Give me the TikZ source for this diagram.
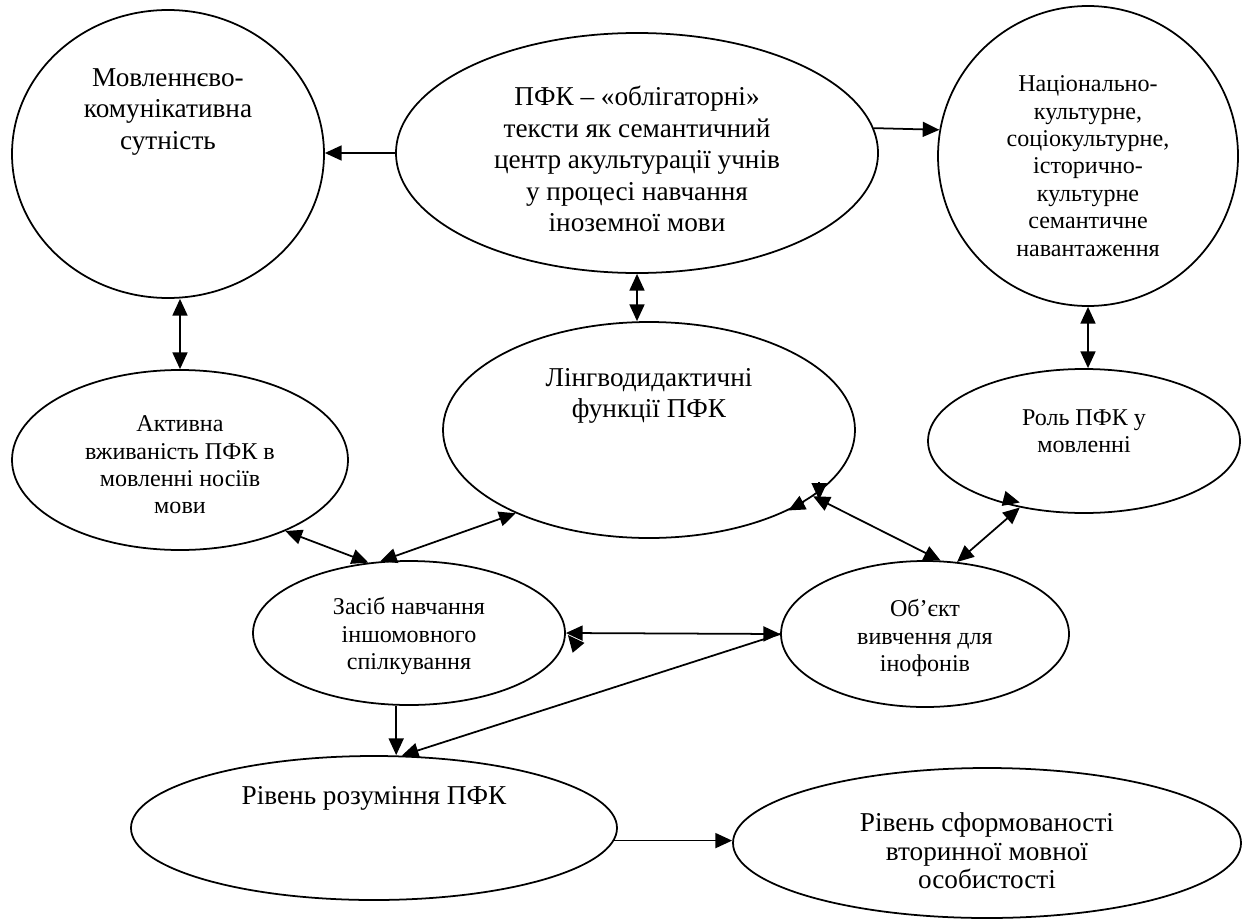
\documentclass[tikz,border=0pt]{standalone}
\usepackage{fontspec}
\setmainfont{Liberation Serif}
\usetikzlibrary{shapes.geometric,arrows.meta,calc}

\begin{document}
\begin{tikzpicture}[
    x=0.02cm, y=-0.02cm,
    % 定义统一的线条与文字样式
    oval/.style={draw, ellipse, line width=1pt, inner sep=0pt},
    bigtxt/.style={align=center, font=\fontsize{15.5}{17.9}\selectfont},
    smalltxt/.style={align=center, font=\fontsize{13.7}{15.6}\selectfont},
    lowtxt/.style={align=center, font=\fontsize{15.5}{16.2}\selectfont},
    link/.style={line width=1pt, -{Triangle[length=9.5pt,width=8.5pt]}},
    dlink/.style={line width=1pt, {Triangle[length=9.5pt,width=8.5pt]}-{Triangle[length=9.5pt,width=8.5pt]}}
]
    \useasboundingbox (0,0) rectangle (1243,919);

    % --- 绘制宏 ---
    % #1 名称, #2 中心, #3 宽, #4 高, #5 文字偏移, #6 文字样式, #7 文字
    \newcommand{\elli}[7]{
        \node[oval, minimum width={#3*0.02cm}, minimum height={#4*0.02cm}] (#1) at (#2) {};
        \path (#1.center) ++(0,#5) node[#6] (#1t) {#7};
    }

    % --- 椭圆 ---
    \elli{mov}{168,154}{312}{288}{-42}{bigtxt}{Мовленнєво-\\комунікативна\\сутність}
    \elli{pfk}{637,153}{482}{240}{6}{bigtxt}{ПФК – «облігаторні»\\тексти як семантичний\\центр акультурації учнів\\у процесі навчання\\іноземної мови}
    \elli{nats}{1088,156}{300}{300}{10}{smalltxt}{Національно-\\культурне,\\соціокультурне,\\історично-\\культурне\\семантичне\\навантаження}
    \elli{akt}{180,460}{336}{180}{5}{smalltxt}{Активна\\вживаність ПФК в\\мовленні носіїв\\мови}
    \elli{ling}{649,430}{412}{216}{-34}{bigtxt}{Лінгводидактичні\\функції ПФК}
    \elli{rol}{1084,441}{312}{144}{-10}{smalltxt}{Роль ПФК у\\мовленні}
    \elli{zas}{409,633}{312}{144}{3}{smalltxt}{Засіб навчання\\іншомовного\\спілкування}
    \elli{obj}{925,634}{288}{146}{4}{smalltxt}{Об’єкт\\вивчення для\\інофонів}
    \elli{rivr}{374,828}{486}{144}{-30}{bigtxt}{Рівень розуміння ПФК}
    \elli{rivs}{987,843}{508}{150}{8}{lowtxt}{Рівень сформованості\\вторинної мовної\\особистості}

    % --- 连线 ---
    \draw[link] (pfk.west) -- (pfk.west -| mov.east);
    \draw[link] (pfk.6) -- (nats.170);
    \draw[dlink] (mov.south -| akt.north) -- (akt.north);
    \draw[dlink] (pfk.south) -- (pfk.south |- ling.north);
    \draw[dlink] (nats.south) -- (nats.south |- rol.north);
    \draw[dlink] (akt.-34) -- (zas.120);
    \draw[dlink] (zas.112) -- (ling.212);
    \draw[dlink] (ling.-22) -- (obj.78);
    \draw[dlink] (obj.66) -- (rol.226);
    \draw[dlink] (zas.east) -- (obj.west);
    \draw[link] (obj.west) -- (rivr.69);
    \draw[link] (zas.260) -- (zas.260 |- rivr.north);
    \draw[link] (rivr.-3) -- (rivr.-3 -| rivs.west);

    % --- 原图中重叠的箭头 ---
    \draw[link] ($(ling.-20)+(0,-10)$) -- ($(ling.-20)+(0,8)$);
    \draw[link] (ling.-25) -- (ling.-30);
    \draw[link] ($(zas.east)+(12,14)$) -- ($(zas.east)+(2,2)$);
    \draw[link] ($(rol.226)+(-16,-9)$) -- ($(rol.226)+(0,-5)$);

\end{tikzpicture}
\end{document}
